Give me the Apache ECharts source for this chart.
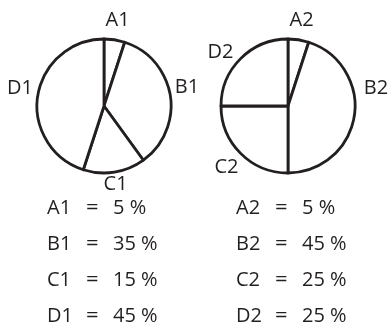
<!DOCTYPE html>
<html><head><meta charset="utf-8">
<script src="https://cdn.jsdelivr.net/npm/echarts@6/dist/echarts.min.js"></script>
<style>html,body{margin:0;padding:0;background:#fff}#c{width:389px;height:325px}</style>
</head><body><div id="c"></div>
<script>
const names1 = ['A1', 'B1', 'C1', 'D1'];
const values1 = [5, 35, 15, 45];
const names2 = ['A2', 'B2', 'C2', 'D2'];
const values2 = [5, 45, 25, 25];

const FONT = '"Open Sans", "DejaVu Sans", sans-serif';
const INK = '#231f20';
const chart = echarts.init(document.getElementById('c'), null, {renderer: 'canvas'});

function pieSeries(names, values, cx) {
  return {
    type: 'pie', center: [cx, 106], radius: [0, 67], startAngle: 90, clockwise: true,
    silent: true, animation: false,
    label: {show: false}, labelLine: {show: false},
    itemStyle: {color: '#fff', borderColor: INK, borderWidth: 2.8},
    emphasis: {disabled: true},
    data: names.map((n, i) => ({name: n, value: values[i]}))
  };
}
function labelSeries(names, values, cx, offsets) {
  return {
    type: 'pie', center: [cx, 106], radius: [67, 101], startAngle: 90, clockwise: true,
    silent: true, animation: false,
    itemStyle: {color: 'rgba(0,0,0,0)', borderWidth: 0},
    label: {show: true, position: 'inside', formatter: '{b}', color: INK,
      fontFamily: FONT, fontSize: 20},
    labelLine: {show: false},
    emphasis: {disabled: true},
    data: names.map((n, i) => ({name: n, value: values[i],
      label: offsets[n] ? {offset: offsets[n]} : {}}))
  };
}

const graphics = [];
function addColumn(names, values, xName, xEq, xVal) {
  names.forEach((n, i) => {
    const y = 209 + i * 36;
    graphics.push({type: 'text', left: xName, top: y - 11, style: {text: n, font: '20px ' + FONT, fill: INK}});
    graphics.push({type: 'text', left: xEq, top: y - 12, style: {text: '=', font: '22px ' + FONT, fill: INK}});
    graphics.push({type: 'text', left: xVal, top: y - 11, style: {text: values[i] + ' %', font: '20px ' + FONT, fill: INK}});
  });
}
addColumn(names1, values1, 47, 86, 113);
addColumn(names2, values2, 236, 275, 302);

chart.setOption({
  backgroundColor: '#fff',
  animation: false,
  series: [
    pieSeries(names1, values1, 104),
    labelSeries(names1, values1, 104, {C1: [-2, -8], B1: [-3, -5], D1: [2, -4]}),
    pieSeries(names2, values2, 288),
    labelSeries(names2, values2, 288, {B2: [2, -31], D2: [-6, 8]})
  ],
  graphic: graphics
});
</script></body></html>
